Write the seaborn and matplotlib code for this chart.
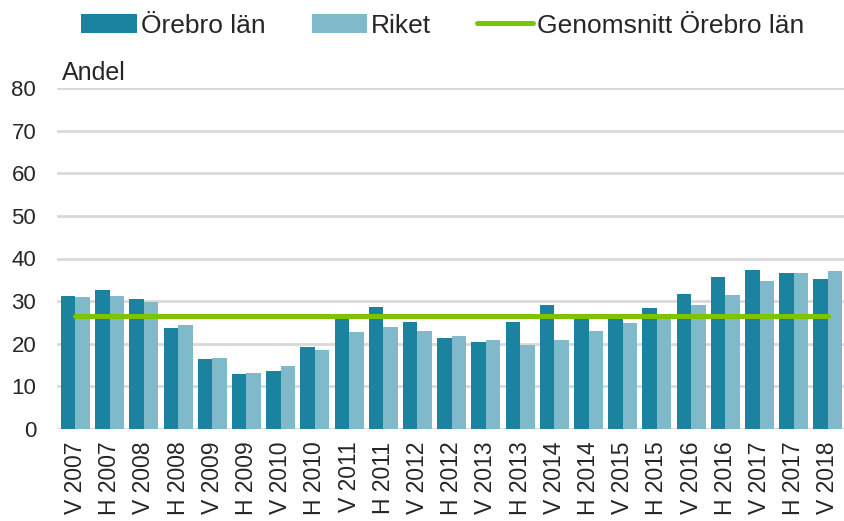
import matplotlib
matplotlib.use("Agg")
import matplotlib.pyplot as plt
from matplotlib.patches import Patch
from matplotlib.lines import Line2D
import seaborn as sns
import pandas as pd
import numpy as np

periods = ["V 2007", "H 2007", "V 2008", "H 2008", "V 2009", "H 2009", "V 2010", "H 2010",
           "V 2011", "H 2011", "V 2012", "H 2012", "V 2013", "H 2013", "V 2014", "H 2014",
           "V 2015", "H 2015", "V 2016", "H 2016", "V 2017", "H 2017", "V 2018"]
orebro = [31.2, 32.5, 30.6, 23.6, 16.5, 13.0, 13.5, 19.2, 26.8, 28.6, 25.1, 21.3,
          20.5, 25.2, 29.2, 26.8, 26.8, 28.4, 31.6, 35.7, 37.4, 36.6, 35.2]
riket = [31.0, 31.3, 29.7, 24.3, 16.6, 13.2, 14.7, 18.5, 22.7, 23.9, 22.9, 21.9,
         20.8, 19.6, 20.9, 23.1, 24.8, 26.9, 29.0, 31.4, 34.7, 36.5, 37.0]
genomsnitt = [26.6] * 23  # constant average line for Örebro län
yticks = [0, 10, 20, 30, 40, 50, 60, 70, 80]

c_orebro = "#1B82A0"
c_riket = "#80B9CA"
c_line = "#7DC300"

sns.set_style("white")
plt.rcParams["font.family"] = ["Liberation Sans", "DejaVu Sans"]

df = pd.DataFrame({
    "period": periods * 2,
    "value": orebro + riket,
    "serie": ["Örebro län"] * len(periods) + ["Riket"] * len(periods),
})

fig = plt.figure(figsize=(8.44, 5.21), dpi=100)
ax = fig.add_axes([57 / 844, 1 - 429 / 521, 787 / 844, 341 / 521])

sns.barplot(data=df, x="period", y="value", hue="serie", order=periods,
            hue_order=["Örebro län", "Riket"], palette=[c_orebro, c_riket],
            width=0.85, saturation=1, linewidth=0, ax=ax, legend=False, zorder=2)
sns.lineplot(x=np.arange(len(periods)), y=genomsnitt, color=c_line, linewidth=3.6,
             ax=ax, zorder=3, solid_capstyle="round")

ax.set_ylim(0, 80)
ax.set_xlim(-0.54, 22.47)
ax.set_yticks(yticks)
ax.set_yticklabels([str(v) for v in yticks], fontsize=16)
ax.set_xticks(range(len(periods)))
ax.set_xticklabels(periods, rotation=90, fontsize=16.5)
ax.tick_params(axis="y", length=0, pad=15)
ax.tick_params(axis="x", length=0, pad=9)
ax.set_xlabel("")
ax.set_ylabel("")
for s in ax.spines.values():
    s.set_visible(False)
ax.yaxis.grid(True, color="#D9D9D9", linewidth=2, zorder=0)
ax.set_axisbelow(True)

ax.text(0.006, 1.022, "Andel", transform=ax.transAxes, fontsize=18, va="baseline", ha="left")

handles = [Patch(facecolor=c_orebro, edgecolor="none", label="Örebro län"),
           Patch(facecolor=c_riket, edgecolor="none", label="Riket"),
           Line2D([0], [0], color=c_line, linewidth=3.6, solid_capstyle="round",
                  label="Genomsnitt Örebro län")]
ax.legend(handles=handles, loc="center", bbox_to_anchor=(0.49, 1.183), ncol=3,
          frameon=False, fontsize=19, handlelength=2.1, handleheight=0.78,
          handletextpad=0.15, columnspacing=1.75, borderaxespad=0)

fig.savefig("out.png", dpi=100)
